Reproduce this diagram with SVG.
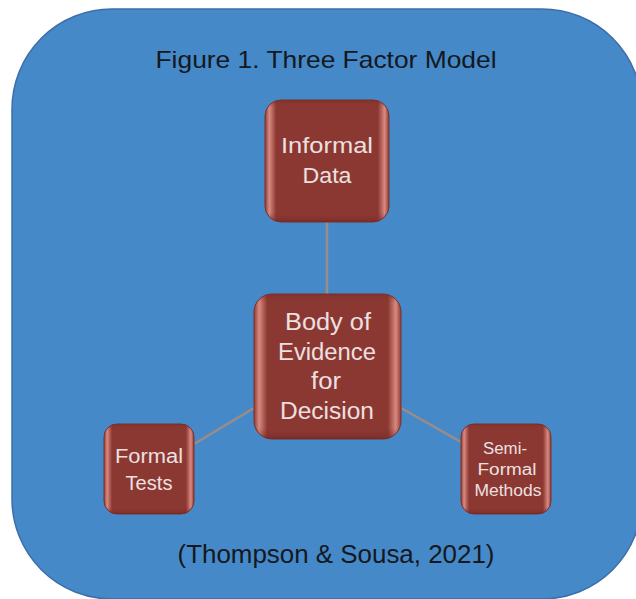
<svg xmlns="http://www.w3.org/2000/svg" width="636" height="599" viewBox="0 0 636 599">
  <defs>
    <linearGradient id="bevelH" x1="0" y1="0" x2="1" y2="0">
      <stop offset="0" stop-color="#8f3c36"/>
      <stop offset="0.035" stop-color="#d98a80"/>
      <stop offset="0.09" stop-color="#8c3832"/>
      <stop offset="0.91" stop-color="#8c3832"/>
      <stop offset="0.965" stop-color="#d98a80"/>
      <stop offset="1" stop-color="#8f3c36"/>
    </linearGradient>
    <linearGradient id="bevelV" x1="0" y1="0" x2="0" y2="1">
      <stop offset="0" stop-color="#7a2a25" stop-opacity="0.5"/>
      <stop offset="0.06" stop-color="#8c3832" stop-opacity="0"/>
      <stop offset="0.92" stop-color="#8c3832" stop-opacity="0"/>
      <stop offset="1" stop-color="#6e2420" stop-opacity="0.6"/>
    </linearGradient>
  </defs>
  <style>
    .bg { fill: #4689c8; stroke: #3b6fa8; stroke-width: 1.5; }
    .node { fill: url(#bevelH); stroke: #7c302b; stroke-width: 1; }
    .shade { fill: url(#bevelV); }
    .label { font-family: "Liberation Sans", Arial, sans-serif; fill: #ece0e0; text-anchor: middle; }
    .caption { font-family: "Liberation Sans", Arial, sans-serif; fill: #141820; text-anchor: middle; }
    .conn { stroke: #9c8c88; stroke-width: 2.5; fill: none; }
  </style>

  <rect class="bg" x="12" y="9" width="630" height="590" rx="100" ry="100"/>

  <text class="caption" x="326" y="68" font-size="24" textLength="341" lengthAdjust="spacingAndGlyphs">Figure 1. Three Factor Model</text>

  <g id="connectors">
    <line class="conn" x1="327" y1="222" x2="327" y2="294"/>
    <line class="conn" x1="254" y1="408" x2="194" y2="444"/>
    <line class="conn" x1="401" y1="408" x2="461" y2="442"/>
  </g>

  <g id="node-informal">
    <rect class="node" x="265" y="100" width="124" height="122" rx="16"/>
    <rect class="shade" x="265" y="100" width="124" height="122" rx="16"/>
    <text class="label" x="327" y="153" font-size="22" textLength="92" lengthAdjust="spacingAndGlyphs">Informal</text>
    <text class="label" x="327" y="183" font-size="22" textLength="49" lengthAdjust="spacingAndGlyphs">Data</text>
  </g>

  <g id="node-body">
    <rect class="node" x="254" y="294" width="147" height="145" rx="18"/>
    <rect class="shade" x="254" y="294" width="147" height="145" rx="18"/>
    <text class="label" x="328" y="330" font-size="23" textLength="86" lengthAdjust="spacingAndGlyphs">Body of</text>
    <text class="label" x="327" y="360" font-size="23" textLength="98" lengthAdjust="spacingAndGlyphs">Evidence</text>
    <text class="label" x="326" y="389" font-size="23" textLength="30" lengthAdjust="spacingAndGlyphs">for</text>
    <text class="label" x="327" y="419" font-size="23" textLength="94" lengthAdjust="spacingAndGlyphs">Decision</text>
  </g>

  <g id="node-formal">
    <rect class="node" x="104" y="424" width="90" height="90" rx="13"/>
    <rect class="shade" x="104" y="424" width="90" height="90" rx="13"/>
    <text class="label" x="149" y="463" font-size="20" textLength="68" lengthAdjust="spacingAndGlyphs">Formal</text>
    <text class="label" x="149" y="490" font-size="20" textLength="47" lengthAdjust="spacingAndGlyphs">Tests</text>
  </g>

  <g id="node-semiformal">
    <rect class="node" x="461" y="424" width="90" height="90" rx="13"/>
    <rect class="shade" x="461" y="424" width="90" height="90" rx="13"/>
    <text class="label" x="505" y="454" font-size="16" textLength="44" lengthAdjust="spacingAndGlyphs">Semi-</text>
    <text class="label" x="507" y="475" font-size="16" textLength="59" lengthAdjust="spacingAndGlyphs">Formal</text>
    <text class="label" x="508" y="496" font-size="16" textLength="67" lengthAdjust="spacingAndGlyphs">Methods</text>
  </g>

  <text class="caption" x="336" y="563" font-size="26" textLength="317" lengthAdjust="spacingAndGlyphs">(Thompson &amp; Sousa, 2021)</text>
</svg>
